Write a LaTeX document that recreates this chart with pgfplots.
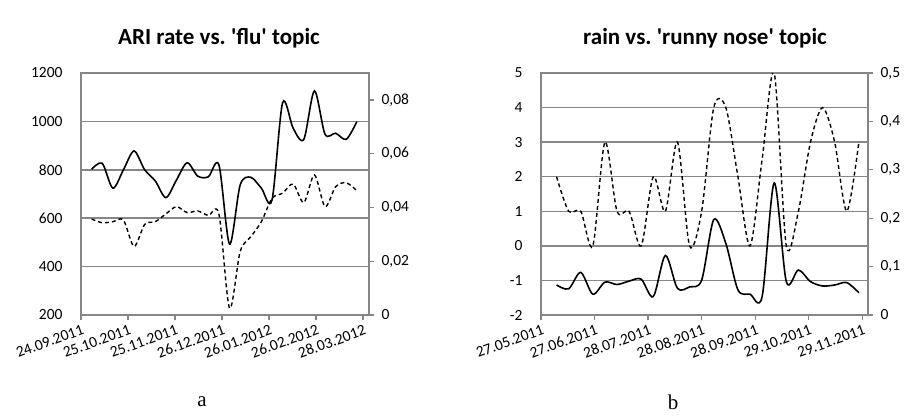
\documentclass[border=0pt]{standalone}
\usepackage{pgfplots}
\pgfplotsset{compat=1.18}
\usepackage{fontspec}
\setmainfont{Carlito}
\newfontfamily\timesf{Liberation Serif}
\definecolor{gridgray}{RGB}{134,134,134}
\pgfplotsset{
  base/.style={scale only axis, anchor=south west, height=242pt, xmin=0,
    axis line style={gridgray, line width=1.3pt, -},
    tick style={gridgray, line width=1.3pt},
    major tick length=5pt,
    tick align=outside,
    scaled y ticks=false,
    ticklabel style={font=\fontsize{15.5}{18}\selectfont, text=black},
    grid style={gridgray, line width=1.5pt},
  },
  xlab/.style={xticklabel style={rotate=20, anchor=north east, inner sep=1pt, yshift=-3pt}},
}
\begin{document}
\frenchspacing
\begin{tikzpicture}[x=1pt,y=1pt]
\path (0,0) rectangle (904,415);
% ---------------- chart a ----------------
\begin{axis}[base, xlab, at={(81pt,100pt)}, width=288pt, xmax=190,
  ymin=200, ymax=1200, ytick={200,400,...,1200},
  yticklabels={200,400,600,800,1000,1200},
  ymajorgrids, ytick pos=left, ytick style={draw=none},
  yticklabel style={xshift=-10pt},
  xtick={0,31,62,93,124,155,186}, xtick pos=bottom,
  xticklabels={24.09.2011,25.10.2011,25.11.2011,26.12.2011,26.01.2012,26.02.2012,28.03.2012}]
\addplot[black, line width=1.6pt, smooth] coordinates {
(7,802) (14,827) (21,724) (28,800) (35,878) (42,800) (49,754) (56,685)
(63,758) (70,829) (77,774) (84,771) (91,820) (98,493) (105,737) (112,769)
(119,724) (126,675) (133,1077) (140,971) (147,926) (154,1126) (161,947)
(168,951) (175,926) (182,999)};
\end{axis}
\begin{axis}[base, at={(81pt,100pt)}, width=288pt, xmax=190,
  ymin=0, ymax=0.09, axis x line=none, axis y line*=right,
  ytick={0,0.02,0.04,0.06,0.08},
  yticklabels={0,{0,02},{0,04},{0,06},{0,08}},
  yticklabel style={xshift=4pt}]
\addplot[black, line width=1.4pt, smooth, dash pattern=on 4pt off 3pt] coordinates {
(7,0.0357) (14,0.0343) (21,0.0347) (28,0.0353) (35,0.0255) (42,0.0337)
(49,0.0347) (56,0.0376) (63,0.0403) (70,0.0381) (77,0.0387) (84,0.0370)
(91,0.0375) (98,0.0025) (105,0.0236) (112,0.0291) (119,0.0347) (126,0.0434)
(133,0.0453) (140,0.0487) (147,0.0418) (154,0.0521) (161,0.0403)
(168,0.0477) (175,0.0492) (182,0.0462)};
\end{axis}
% ---------------- chart b ----------------
\begin{axis}[base, xlab, at={(541pt,100pt)}, width=327pt, xmax=189.3,
  ymin=-2, ymax=5, ytick={-2,-1,...,5},
  yticklabels={-2,-1,0,1,2,3,4,5},
  ymajorgrids, ytick pos=left, ytick style={draw=none},
  yticklabel style={xshift=-10pt},
  xtick={0,31,62,93,124,155,186}, xtick pos=bottom,
  xticklabels={27.05.2011,27.06.2011,28.07.2011,28.08.2011,28.09.2011,29.10.2011,29.11.2011}]
\addplot[black, line width=1.4pt, smooth, dash pattern=on 4pt off 3pt] coordinates {
(9,2) (16,1) (23,1) (30,0) (37,3) (44,1) (51,1) (58,0) (65,2) (72,1)
(79,3) (86,0) (93,1) (100,4) (107,4) (114,2) (121,0) (128,2.5) (135,5)
(142,0) (149,1) (156,3) (163,4) (170,3) (177,1) (184,3)};
\end{axis}
\begin{axis}[base, at={(541pt,100pt)}, width=327pt, xmax=189.3,
  ymin=0, ymax=0.5, axis x line=none, axis y line*=right,
  ytick={0,0.1,...,0.5},
  yticklabels={0,{0,1},{0,2},{0,3},{0,4},{0,5}},
  yticklabel style={xshift=4pt}]
\addplot[black, line width=1.6pt, smooth] coordinates {
(9,0.062) (16,0.054) (23,0.088) (30,0.043) (37,0.068) (44,0.063) (51,0.070)
(58,0.074) (65,0.038) (72,0.123) (79,0.055) (86,0.058) (93,0.072) (100,0.197)
(107,0.148) (114,0.052) (121,0.043) (128,0.038) (135,0.273) (142,0.069)
(149,0.093) (156,0.069) (163,0.060) (170,0.062) (177,0.067) (184,0.046)};
\end{axis}
% titles and panel letters
\node[font=\fontsize{23}{26}\selectfont\bfseries] at (219,377) {ARI rate vs. \textquotesingle flu\textquotesingle\ topic};
\node[font=\fontsize{23}{26}\selectfont\bfseries] at (705,377) {rain vs. \textquotesingle runny nose\textquotesingle\ topic};
\node[font=\timesf\fontsize{21}{24}\selectfont] at (202,13) {a};
\node[font=\timesf\fontsize{21}{24}\selectfont] at (673,13) {b};
\end{tikzpicture}
\end{document}
